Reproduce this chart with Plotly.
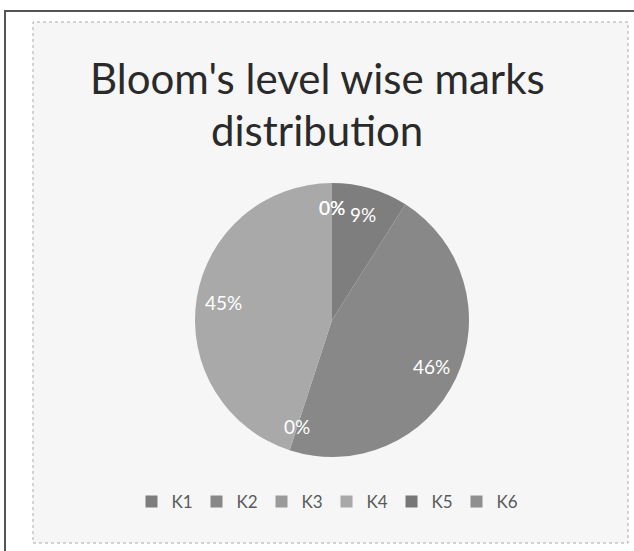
import math
import plotly.graph_objects as go

categories = ["K1", "K2", "K3", "K4", "K5", "K6"]
marks_pct = [9, 46, 0, 45, 0, 0]
slice_colors = ["#7e7e7e", "#888888", "#9a9a9a", "#a9a9a9", "#777777", "#8f8f8f"]

W, H = 634, 551
# pie placement (pixels)
cx, cy, r = 332, 320, 137
dom_x = [(cx - r) / W, (cx + r) / W]
dom_y = [1 - (cy + r) / H, 1 - (cy - r) / H]

fig = go.Figure(go.Pie(
    labels=categories,
    values=marks_pct,
    sort=False,
    direction="clockwise",
    rotation=0,
    marker=dict(colors=slice_colors, line=dict(width=0)),
    textinfo="none",
    hoverinfo="label+percent",
    domain=dict(x=dom_x, y=dom_y),
    showlegend=True,
))

# percentage labels, positioned from the data (Excel-style best fit)
total = sum(marks_pct)
annotations = []
cum = 0.0
for v in marks_pct:
    mid = (cum + v / 2) / total * 2 * math.pi
    cum += v
    f = 0.80 if v > 0 else 0.82
    px = cx + f * r * math.sin(mid)
    py = cy - f * r * math.cos(mid)
    annotations.append(dict(
        x=px / W, y=1 - py / H, xref="paper", yref="paper",
        text=f"{round(v / total * 100)}%", showarrow=False,
        xanchor="center", yanchor="middle",
        font=dict(family="Lato", size=19, color="white"),
    ))

title_lines = ["Bloom's level wise marks", "distribution"]
for i, line in enumerate(title_lines):
    annotations.append(dict(
        x=0.5, y=1 - (78 + 52 * i) / H, xref="paper", yref="paper",
        text=line, showarrow=False, xanchor="center", yanchor="middle",
        font=dict(family="Lato", size=42, color="#2a2a2a"),
    ))

fig.update_layout(
    width=W, height=H,
    margin=dict(l=0, r=0, t=0, b=0),
    paper_bgcolor="white",
    plot_bgcolor="white",
    annotations=annotations,
    legend=dict(
        orientation="h",
        x=0.515, xanchor="center",
        y=1 - 502 / H, yanchor="middle",
        font=dict(family="Lato", size=17, color="#5a5a5a"),
        bgcolor="rgba(0,0,0,0)",
        itemwidth=30,
        entrywidth=20,
        traceorder="normal",
    ),
    shapes=[
        dict(type="rect", xref="paper", yref="paper",
             x0=5 / W, x1=1.05, y0=-0.05, y1=1 - 11 / H,
             line=dict(color="#555555", width=2), layer="below"),
        dict(type="rect", xref="paper", yref="paper",
             x0=33 / W, x1=628 / W, y0=1 - 543 / H, y1=1 - 22 / H,
             fillcolor="#f6f6f6",
             line=dict(color="#aaaaaa", width=1, dash="dot"), layer="below"),
    ],
)

fig.write_html(
    "out.html",
    config={"displayModeBar": False},
    post_script="document.body.style.margin='0';document.body.style.overflow='hidden';",
)
